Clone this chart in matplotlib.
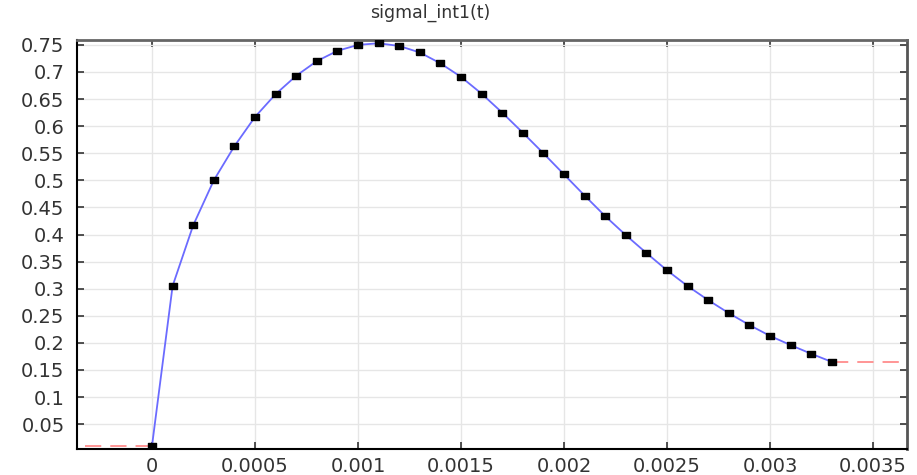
import matplotlib
matplotlib.use("Agg")
import matplotlib.pyplot as plt

# sampled values of sigmal_int1(t)
t = [0.0000, 0.0001, 0.0002, 0.0003, 0.0004, 0.0005, 0.0006, 0.0007, 0.0008,
     0.0009, 0.0010, 0.0011, 0.0012, 0.0013, 0.0014, 0.0015, 0.0016, 0.0017,
     0.0018, 0.0019, 0.0020, 0.0021, 0.0022, 0.0023, 0.0024, 0.0025, 0.0026,
     0.0027, 0.0028, 0.0029, 0.0030, 0.0031, 0.0032, 0.0033]
sig = [0.010, 0.305, 0.417, 0.500, 0.563, 0.617, 0.659, 0.693, 0.720,
       0.739, 0.750, 0.753, 0.748, 0.736, 0.716, 0.691, 0.660, 0.625,
       0.588, 0.550, 0.511, 0.472, 0.434, 0.399, 0.366, 0.334, 0.305,
       0.279, 0.255, 0.233, 0.213, 0.196, 0.180, 0.165]

# extrapolation outside the interval
left_t = [-0.000325, 0.0]
left_y = [0.010, 0.010]
right_t = [0.0033, 0.00363]
right_y = [0.165, 0.165]

xticks = [0, 0.0005, 0.001, 0.0015, 0.002, 0.0025, 0.003, 0.0035]
xlabels = ["0", "0.0005", "0.001", "0.0015", "0.002", "0.0025", "0.003", "0.0035"]
yticks = [0.05, 0.1, 0.15, 0.2, 0.25, 0.3, 0.35, 0.4, 0.45, 0.5, 0.55, 0.6, 0.65, 0.7, 0.75]
ylabels = ["0.05", "0.1", "0.15", "0.2", "0.25", "0.3", "0.35", "0.4", "0.45",
           "0.5", "0.55", "0.6", "0.65", "0.7", "0.75"]

fig = plt.figure(figsize=(9.17, 4.75), dpi=100)
ax = fig.add_axes([0.084, 0.055, 0.905, 0.861])

ax.plot(left_t, left_y, color="#ff8c8c", lw=1.3, dashes=(9, 5), zorder=2)
ax.plot(right_t, right_y, color="#ff8c8c", lw=1.3, dashes=(9, 5), zorder=2)
ax.plot(t, sig, color="#6b6bff", lw=1.3, zorder=3)
# small flat rectangles like the original
rect = [(-1.4, -1), (1.4, -1), (1.4, 1), (-1.4, 1), (-1.4, -1)]
ax.plot(t, sig, ls="none", marker=rect, ms=5.2, color="black", zorder=4)

ax.set_xlim(-0.000364, 0.003665)
ax.set_ylim(0.0044, 0.7592)
ax.set_xticks(xticks)
ax.set_xticklabels(xlabels)
ax.set_yticks(yticks)
ax.set_yticklabels(ylabels)

ax.grid(True, color="#e6e6e6", lw=1.0, zorder=0)
ax.set_axisbelow(True)
ax.tick_params(direction="in", top=True, right=True, length=5, width=1.2,
               labelsize=14, colors="#333333", labelcolor="#333333")
ax.tick_params(axis="x", pad=6)
ax.tick_params(axis="y", pad=9)

ax.spines["left"].set_color("black")
ax.spines["bottom"].set_color("black")
ax.spines["left"].set_linewidth(1.5)
ax.spines["bottom"].set_linewidth(1.5)
ax.spines["top"].set_color("#666666")
ax.spines["right"].set_color("#555555")
ax.spines["top"].set_linewidth(2)
ax.spines["right"].set_linewidth(2)

fig.text(430 / 917, 1 - 13 / 475, "sigmal_int1(t)", fontsize=12.5, color="#333333",
         ha="center", va="center")

fig.savefig("out.png", dpi=100)
